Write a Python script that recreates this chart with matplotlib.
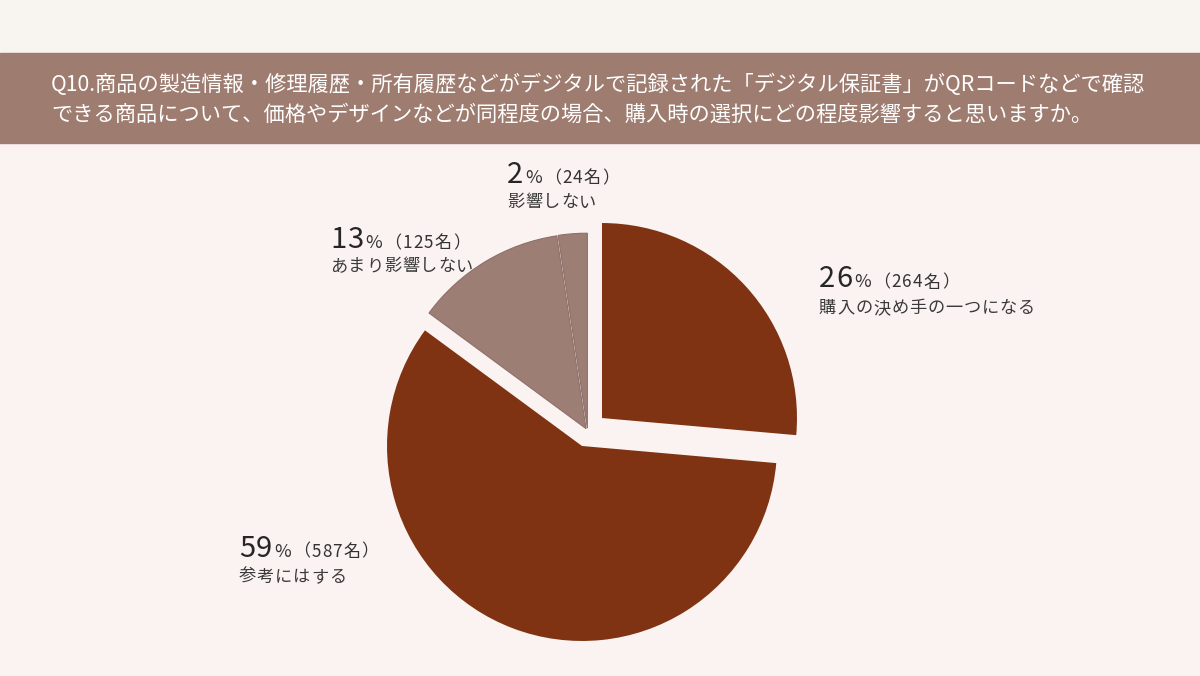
import matplotlib
matplotlib.use("Agg")
import matplotlib.pyplot as plt
from matplotlib.patches import Rectangle

plt.rcParams['font.family'] = ['Noto Sans CJK JP', 'DejaVu Sans']

# ---- data ----
categories = ["購入の決め手の一つになる", "参考にはする", "あまり影響しない", "影響しない"]
counts = [264, 587, 125, 24]
percents = [26, 59, 13, 2]
title_lines = [
    "Q10.商品の製造情報・修理履歴・所有履歴などがデジタルで記録された「デジタル保証書」がQRコードなどで確認",
    "できる商品について、価格やデザインなどが同程度の場合、購入時の選択にどの程度影響すると思いますか。",
]

# ---- style ----
W, H = 1200, 676
BG = "#FBF3F1"
TOP_BG = "#F8F4EF"
BAND = "#9E7C70"
BROWN = "#7F3312"
GRAY = "#9D7E75"
colors = [BROWN, BROWN, GRAY, GRAY]
explode = [19.5, 15.8, 3.0, 3.0]   # in pixel/data units
center_px = (587.6, 431.2)
radius = 195

fig = plt.figure(figsize=(W / 100, H / 100), dpi=100, facecolor=BG)
ax = fig.add_axes([0, 0, 1, 1])
ax.set_facecolor(BG)

wedges, _ = ax.pie(counts, colors=colors, startangle=90, counterclock=False,
                   explode=explode, radius=radius,
                   center=(center_px[0], H - center_px[1]),
                   wedgeprops=dict(linewidth=0))
for w in wedges[2:]:
    w.set_edgecolor("#8E7068")
    w.set_linewidth(0.8)

ax.set_xlim(0, W)
ax.set_ylim(0, H)
ax.set_aspect('auto')
ax.axis('off')

# background strips
fig.patches.append(Rectangle((0, 1 - 53 / H), 1, 53 / H, transform=fig.transFigure,
                             color=TOP_BG, zorder=-2))
fig.patches.append(Rectangle((0, 1 - 143 / H), 1, 90 / H, transform=fig.transFigure,
                             color=BAND, zorder=-1))

# title
fig.text(51 / W, 1 - 91 / H, title_lines[0], color="white", fontsize=15.3, va='baseline', ha='left')
fig.text(51 / W, 1 - 121 / H, title_lines[1], color="white", fontsize=15.3, va='baseline', ha='left')

renderer = fig.canvas.get_renderer()


def spaced_text(x, base, s, size, col, spacing):
    """Draw text char by char with extra letter spacing; returns right edge (px)."""
    cx = x
    for ch in s:
        t = fig.text(cx / W, 1 - base / H, ch, fontsize=size, color=col,
                     va='baseline', ha='left')
        bb = t.get_window_extent(renderer=renderer)
        cx = bb.x1 + spacing
    return cx


def rich_label(x, base1, base2, pct, cnt, cat):
    cx = spaced_text(x, base1, str(pct), 21, "#262626", 1.0)
    cx = spaced_text(cx + 1, base1, "%", 13, "#333333", 0)
    cx = spaced_text(cx + 2, base1, "（%d名）" % cnt, 12.3, "#333333", 1.2)
    spaced_text(x, base2, cat, 12.4, "#3a3a3a", 0.8)


label_pos = [(819, 287.5, 313), (239, 556.7, 582), (330, 248.3, 271.5), (507, 183.3, 207.5)]
for (x, b1, b2), p, c, cat in zip(label_pos, percents, counts, categories):
    rich_label(x, b1, b2, p, c, cat)

fig.savefig("out.png", dpi=100, facecolor=BG)
